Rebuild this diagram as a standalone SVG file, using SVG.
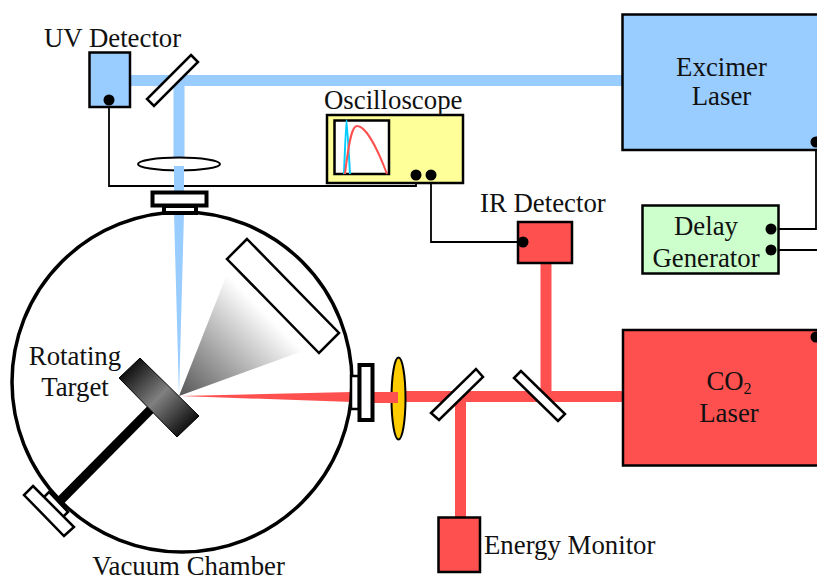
<svg xmlns="http://www.w3.org/2000/svg" width="817" height="581" viewBox="0 0 817 581">
<style>
text{font-family:"Liberation Serif","Times New Roman",serif;font-size:26.8px;fill:#111}
.m{text-anchor:middle}
.box{stroke:#000;stroke-width:2.5}
.w{fill:#fff;stroke:#000;stroke-width:2.5}
.th{fill:#fff;stroke:#000;stroke-width:4}
.wire{fill:none;stroke:#000;stroke-width:1.8}
.uv{stroke:#99ccff;stroke-width:11;fill:none}
.ir{stroke:#ff5050;stroke-width:11;fill:none}
</style>
<defs>
<linearGradient id="plume" gradientUnits="userSpaceOnUse" x1="179" y1="396" x2="271" y2="304"><stop offset="0" stop-color="#555"/><stop offset=".92" stop-color="#fff"/></linearGradient>
<linearGradient id="tgt" gradientUnits="userSpaceOnUse" x1="129" y1="368" x2="188" y2="427"><stop offset="0" stop-color="#111"/><stop offset=".5" stop-color="#808080"/><stop offset="1" stop-color="#111"/></linearGradient>
</defs>
<g id="connectors">
<path class="uv" d="M130 80.500H622M179 80.500V158"/>
<path class="ir" d="M623 396.500H398M546 263V396.500M460.500 396.500V517"/>
<path class="wire" d="M109 100V186H416V175"/>
<path class="wire" d="M431 175V242H523"/>
<path class="wire" d="M816 142V229H771" stroke="#888"/>
<path class="wire" d="M771 250H817"/>
</g>
<g id="uv-detector"><rect class="box" x="89.500" y="52.500" width="40.500" height="54.500" fill="#99ccff"/><circle cx="109" cy="100" r="5.500"/><text x="44" y="47">UV Detector</text></g>
<g id="mirror-1"><polygon class="w" points="191,55 198,62 154,106 147,99"/></g>
<g id="uv-lens"><ellipse class="w" cx="179" cy="164" rx="41" ry="6.500" style="stroke-width:2"/><rect x="174" y="166" width="10" height="26" fill="#99ccff"/></g>
<g id="excimer-laser"><rect class="box" x="622.500" y="14.500" width="210" height="135.500" fill="#99ccff"/><circle cx="816" cy="142" r="5.500"/><text class="m" x="721.500" y="75.500">Excimer</text><text class="m" x="721.500" y="105">Laser</text></g>
<g id="oscilloscope"><rect class="box" x="327" y="115" width="136" height="68" fill="#ffff99"/><rect class="box" x="334.500" y="120.500" width="54.500" height="53.500" fill="#fff"/><path d="M344 174Q346 120 346.500 120Q347 120 350 174" fill="none" stroke="#00ccff" stroke-width="2"/><path d="M345 174C349 140 352 126 357 126C366 126 378 150 387 174" fill="none" stroke="#ff5050" stroke-width="2"/><circle cx="416" cy="175" r="5.500"/><circle cx="431" cy="175" r="5.500"/><text x="324" y="109">Oscilloscope</text></g>
<g id="ir-detector"><rect class="box" x="518" y="222" width="54" height="41" fill="#ff5050"/><circle cx="523" cy="242" r="5.500"/><text x="480" y="212">IR Detector</text></g>
<g id="delay-generator"><rect class="box" x="642.500" y="205.500" width="136" height="68" fill="#ccffcc"/><circle cx="771" cy="229" r="5.500"/><circle cx="771" cy="250" r="5.500"/><text class="m" x="706" y="235">Delay</text><text class="m" x="706" y="266.500">Generator</text></g>
<g id="co2-laser"><rect class="box" x="623" y="330" width="210" height="135.500" fill="#ff5050"/><circle cx="816" cy="337" r="5.500"/><text class="m" x="729" y="390">CO<tspan font-size="16" dy="3.500">2</tspan></text><text class="m" x="729" y="421.500">Laser</text></g>
<g id="energy-monitor"><rect class="box" x="438.500" y="517.500" width="41.500" height="54.500" fill="#ff5050"/><text x="484" y="554">Energy Monitor</text></g>
<g id="ir-lens"><ellipse cx="398.500" cy="398.500" rx="7" ry="41" fill="#ffcc00" stroke="#000" stroke-width="2"/><rect x="373" y="392" width="25" height="11" fill="#ff5050"/></g>
<g id="mirror-2"><polygon class="w" points="476,369 483,377 439,420 431,413"/></g>
<g id="mirror-3"><polygon class="w" points="521,371 514,378 558,421 565,414"/></g>
<g id="vacuum-chamber">
<polygon points="174,213 184,213 179,396" fill="#99ccff"/>
<polygon points="180,396 352,392 352,402" fill="#ff5050"/>
<polygon points="179,396 231,264 314,347" fill="url(#plume)"/>
<circle cx="182" cy="382" r="170" fill="none" stroke="#000" stroke-width="3.500"/>
<polygon class="w" points="247,239 227,259 319,353 339,333" style="fill:none"/>
<line x1="156" y1="404" x2="58" y2="503" stroke="#000" stroke-width="9"/>
<polygon points="140,358 119,378 177,437 199,416" fill="url(#tgt)" stroke="#000" stroke-width="1"/>
<polygon class="w" points="49,492 68,512 62,518 43,498"/>
<polygon class="w" points="33,486 74,527 64,536 24,495"/>
<rect class="th" x="164" y="206" width="32" height="7"/>
<rect class="th" x="152.500" y="192.500" width="54" height="13"/>
<rect class="w" x="351" y="376" width="8" height="33"/>
<rect class="th" x="359.500" y="365" width="13" height="55"/>
<text class="m" x="75" y="365">Rotating</text><text class="m" x="75" y="396">Target</text>
<text class="m" x="188.500" y="575">Vacuum Chamber</text>
</g>
</svg>
